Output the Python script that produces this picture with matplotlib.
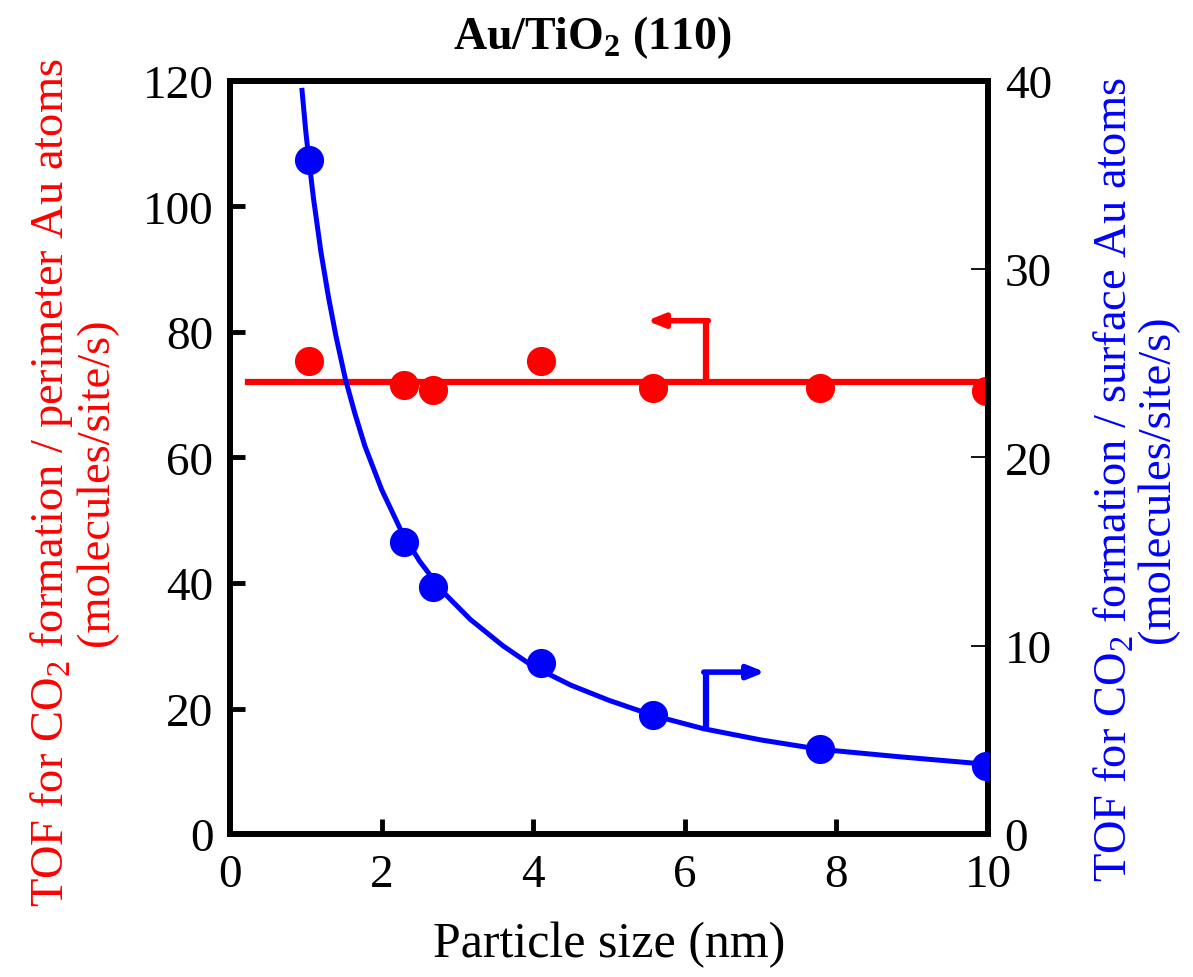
import matplotlib
matplotlib.use('Agg')
import matplotlib.pyplot as plt

plt.rcParams['font.family'] = ['Liberation Serif', 'DejaVu Serif']
plt.rcParams['mathtext.fontset'] = 'custom'
plt.rcParams['mathtext.rm'] = 'Liberation Serif'
plt.rcParams['mathtext.bf'] = 'Liberation Serif:bold'

# particle size (nm)
size = [1.04, 2.3, 2.68, 4.1, 5.58, 7.78, 9.97]
# TOF per perimeter Au atom (left axis)
tof_perim = [75.4, 71.6, 70.8, 75.3, 71.1, 71.1, 70.6]
# TOF per surface Au atom (right axis)
tof_surf = [35.8, 15.5, 13.1, 9.1, 6.3, 4.5, 3.6]

# flat line for perimeter TOF
perim_x = [0.24, 10.0]
perim_y = [72.0, 72.0]

# fitted curve for surface TOF
curve_x = [0.95, 1.0, 1.05, 1.1, 1.2, 1.3, 1.4, 1.52, 1.65, 1.78, 2.0, 2.27,
           2.5, 2.8, 3.17, 3.6, 4.0, 4.5, 5.0, 5.58, 6.24, 7.0, 7.78, 8.84, 10.0]
curve_y = [39.5, 37.3, 35.5, 33.8, 30.9, 28.5, 26.4, 24.2, 22.3, 20.6, 18.3, 16.0,
           14.5, 12.9, 11.4, 10.0, 8.9, 7.9, 7.1, 6.3, 5.6, 5.0, 4.5, 4.1, 3.7]

fig = plt.figure(figsize=(11.93, 9.78), dpi=100)
ax = fig.add_axes([0.1928, 0.1462, 0.6354, 0.77])
ax2 = ax.twinx()

red = '#ff0000'
blue = '#0000ff'

ax.plot(perim_x, perim_y, color=red, lw=4.5, zorder=2)
ax.plot(size, tof_perim, 'o', color=red, ms=21, mec='none', zorder=3)
ax2.plot(curve_x, curve_y, color=blue, lw=3.6, zorder=2)
ax2.plot(size, tof_surf, 'o', color=blue, ms=21, mec='none', zorder=3)

# arrows pointing at the axes each series belongs to
ax.plot([6.28, 6.28], [72.0, 81.8], color=red, lw=4.5, solid_capstyle='butt')
ax.annotate('', xy=(5.5, 81.8), xytext=(6.31, 81.8),
            arrowprops=dict(arrowstyle='-|>,head_length=1.0,head_width=0.4',
                            color=red, lw=4, shrinkA=0, shrinkB=0))
ax2.plot([6.28, 6.28], [5.45, 8.6], color=blue, lw=4.5, solid_capstyle='butt')
ax2.annotate('', xy=(7.06, 8.6), xytext=(6.25, 8.6),
             arrowprops=dict(arrowstyle='-|>,head_length=1.0,head_width=0.4',
                             color=blue, lw=4, shrinkA=0, shrinkB=0))

ax.set_xlim(0, 10)
ax.set_ylim(0, 120)
ax2.set_ylim(0, 40)
ax.set_xticks([0, 2, 4, 6, 8, 10])
ax.set_yticks([0, 20, 40, 60, 80, 100, 120])
ax2.set_yticks([0, 10, 20, 30, 40])

for a in (ax, ax2):
    for s in a.spines.values():
        s.set_linewidth(4.2)
ax.tick_params(axis='both', direction='in', length=11, width=3.5, labelsize=34, pad=12)
ax.tick_params(axis='x', top=False, pad=14)
ax2.tick_params(axis='y', direction='in', length=12, width=1.3, labelsize=34, pad=12)

ax.set_xlabel('Particle size (nm)', fontsize=36, labelpad=18)
ax.set_ylabel('TOF for CO$_2$ formation / perimeter Au atoms\n(molecules/site/s)',
              fontsize=33.5, color=red, linespacing=1.0)
ax2.set_ylabel('TOF for CO$_2$ formation / surface Au atoms\n(molecules/site/s)',
               fontsize=33.5, color=blue, linespacing=1.0)
ax.yaxis.set_label_coords(-0.148, 0.468)
ax2.yaxis.set_label_coords(1.137, 0.472)
fig.text(0.497, 0.962, 'Au/TiO$_\\mathbf{2}$ (110)', fontsize=33, fontweight='bold',
         ha='center', va='center')

fig.savefig('out.png', dpi=100)
